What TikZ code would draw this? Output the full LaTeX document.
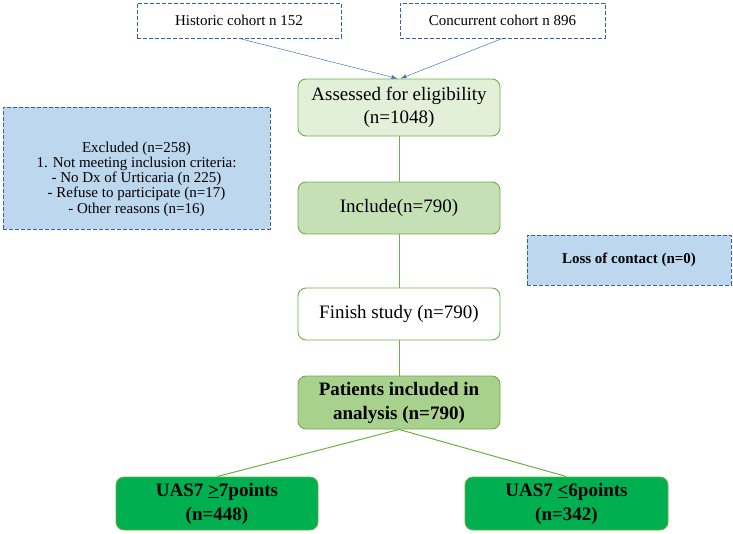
\documentclass[tikz,border=0pt]{standalone}
\usepackage{fontspec}
\setmainfont{Liberation Serif}
\usetikzlibrary{arrows.meta}
\definecolor{linegreen}{HTML}{70AD47}
\definecolor{paleblue}{HTML}{BDD7EE}
\definecolor{dashblue}{HTML}{3560A8}
\definecolor{arrowblue}{HTML}{4472C4}
\definecolor{assessfill}{HTML}{E2F0D9}
\definecolor{includefill}{HTML}{C5E0B4}
\definecolor{patientfill}{HTML}{A9D18E}
\definecolor{uasfill}{HTML}{00B050}
\tikzset{
  flowbox/.style={draw=linegreen, line width=0.9pt, rounded corners=8pt, align=center,
    minimum width=202pt, minimum height=52pt, inner sep=0pt,
    font=\fontsize{19}{23}\selectfont},
  cohortbox/.style={draw=dashblue, dash pattern=on 4pt off 2pt, line width=0.8pt, fill=white, align=center,
    minimum width=204pt, minimum height=35pt, inner sep=0pt,
    font=\fontsize{15}{18}\selectfont},
  notebox/.style={cohortbox, fill=paleblue},
  flowline/.style={draw=linegreen, line width=1pt},
  cohortarrow/.style={draw=arrowblue, line width=0.5pt, -{Latex[length=6pt,width=4pt]}}
}
\begin{document}
\begin{tikzpicture}[x=1pt, y=-1pt]
    \useasboundingbox (0,0) rectangle (733,533);
    % Cohorts
    \node[cohortbox] (hist) at (239,20.5) {Historic cohort n 152};
    \node[cohortbox, minimum width=205pt] (conc) at (502.5,20.5) {Concurrent cohort n 896};

    % Main flow
    \node[flowbox, fill=assessfill, minimum height=57pt] (assess) at (399,107.5) {Assessed for eligibility\\(n=1048)};
    \node[flowbox, fill=includefill] (incl) at (399,208) {Include(n=790)};
    \node[flowbox, fill=white] (finish) at (399,314) {Finish study (n=790)};
    \node[flowbox, fill=patientfill, minimum height=53pt, font=\fontsize{19}{24}\selectfont\bfseries] (patients) at (399,402.5) {Patients included in\\analysis (n=790)};

    % Excluded / lost
    \node[notebox, minimum width=267pt, minimum height=122pt] (excl) at (136.5,168) {};
    \node[align=center, inner sep=0pt, font=\fontsize{15}{15.3}\selectfont] (excltext) at (136.5,179) {Excluded (n=258)\\1. Not meeting inclusion criteria:\\- No Dx of Urticaria (n 225)\\- Refuse to participate (n=17)\\- Other reasons (n=16)};
    \node[notebox, minimum height=50pt, font=\fontsize{15}{18}\selectfont\bfseries] (loss) at (629,260) {Loss of contact (n=0)};

    % Groups
    \node[flowbox, fill=uasfill, minimum height=53pt, font=\fontsize{19}{24}\selectfont\bfseries] (uashigh) at (217,503.5) {UAS7 \underline{>}7points\\(n=448)};
    \node[flowbox, fill=uasfill, minimum height=53pt, minimum width=203pt, font=\fontsize{19}{24}\selectfont\bfseries] (uaslow) at (566.5,503.5) {UAS7 \underline{<}6points\\(n=342)};

    % Connectors
    \draw[cohortarrow] (hist.south) -- ([xshift=-1.5pt]assess.north);
    \draw[cohortarrow] (conc.south) -- ([xshift=1.5pt]assess.north);
    \draw[flowline] (assess) -- (incl);
    \draw[flowline] (incl) -- (finish);
    \draw[flowline] (finish) -- (patients);
    \draw[flowline] (patients.south) -- (uashigh.north);
    \draw[flowline] (patients.south) -- (uaslow.north);
\end{tikzpicture}
\end{document}
